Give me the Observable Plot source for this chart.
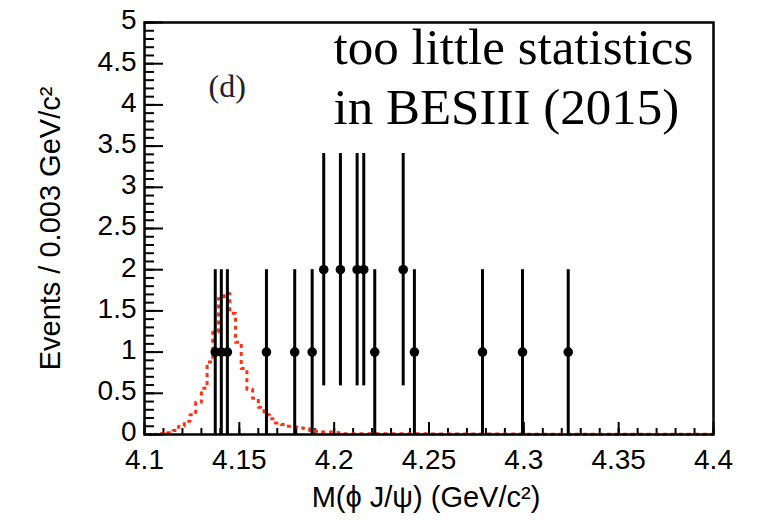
<!DOCTYPE html>
<html><head><meta charset="utf-8">
<script src="https://cdn.jsdelivr.net/npm/d3@7"></script>
<script src="https://cdn.jsdelivr.net/npm/@observablehq/plot@0.6"></script>
<style>body{margin:0;background:#fff}</style>
</head><body><div id="chart"></div>
<script>
// Data points (bin centres, counts) and their error bar ends
const massX   = [4.1373, 4.1405, 4.1437, 4.1643, 4.1792, 4.1884, 4.1945, 4.2033, 4.2121, 4.2156, 4.2214, 4.2364, 4.2423, 4.2782, 4.2993, 4.3234];
const counts  = [1, 1, 1, 1, 1, 1, 2, 2, 2, 2, 1, 2, 1, 1, 1, 1];
const errLow  = [0, 0, 0, 0, 0, 0, 0.59, 0.59, 0.59, 0.59, 0, 0.59, 0, 0, 0, 0];
const errHigh = [2, 2, 2, 2, 2, 2, 3.41, 3.41, 3.41, 3.41, 2, 3.41, 2, 2, 2, 2];

// MC signal shape (red dotted histogram): bin lower edges and heights
const mcX = [4.100, 4.103, 4.106, 4.109, 4.112, 4.115, 4.118, 4.121, 4.124, 4.127,
             4.130, 4.133, 4.136, 4.139, 4.142, 4.145, 4.148, 4.151, 4.154, 4.157,
             4.160, 4.163, 4.166, 4.169, 4.172, 4.175, 4.178, 4.181, 4.184, 4.187,
             4.190, 4.193, 4.196, 4.199, 4.202, 4.205, 4.250, 4.300, 4.400];
const mcY = [0.00, 0.00, 0.005, 0.015, 0.02, 0.05, 0.10, 0.16, 0.24, 0.39,
             0.56, 0.88, 1.24, 1.65, 1.71, 1.47, 1.12, 0.80, 0.55, 0.44,
             0.33, 0.24, 0.19, 0.14, 0.12, 0.10, 0.09, 0.08, 0.07, 0.05,
             0.04, 0.03, 0.03, 0.025, 0.02, 0.01, 0.005, 0.003, 0.003];

// Axis ticks and labels
const xTickValues = [4.1, 4.15, 4.2, 4.25, 4.3, 4.35, 4.4];
const xTickLabels = ["4.1", "4.15", "4.2", "4.25", "4.3", "4.35", "4.4"];
const yTickValues = [0, 0.5, 1, 1.5, 2, 2.5, 3, 3.5, 4, 4.5, 5];
const yTickLabels = ["0", "0.5", "1", "1.5", "2", "2.5", "3", "3.5", "4", "4.5", "5"];
const xLabel = "M(\u03d5 J/\u03c8) (GeV/c\u00b2)";
const yLabel = "Events / 0.003 GeV/c\u00b2";
const panelTag = "(d)";
const noteLines = ["too little statistics", "in BESIII (2015)"];

const W = 761, H = 521;
const mL = 144, mR = 48, mT = 22, mB = 87;
const innerW = W - mL - mR, innerH = H - mT - mB;

const points = massX.map((x, i) => ({x, n: counts[i], lo: errLow[i], hi: errHigh[i]}));
const mc = mcX.map((x, i) => ({x, y: mcY[i]}));
const xMinor = d3.range(0, 31).map(i => +(4.1 + i * 0.01).toFixed(2));
const yMinor = d3.range(0, 51).map(i => +(i * 0.1).toFixed(1));

const sans = "'Liberation Sans', Arial, Helvetica, sans-serif";
const serif = "'Liberation Serif', 'Times New Roman', serif";

const chart = Plot.plot({
  width: W, height: H,
  marginLeft: mL, marginRight: mR, marginTop: mT, marginBottom: mB,
  x: {domain: [4.1, 4.4]},
  y: {domain: [0, 5]},
  style: {fontFamily: sans, background: "#fff", color: "#000"},
  marks: [
    // inward ticks
    Plot.tickX(xMinor, {x: d => d, insetTop: innerH - 6, stroke: "#000", strokeWidth: 2}),
    Plot.tickX(xTickValues, {x: d => d, insetTop: innerH - 12, stroke: "#000", strokeWidth: 2}),
    Plot.tickY(yMinor, {y: d => d, insetRight: innerW - 10, stroke: "#000", strokeWidth: 2}),
    Plot.tickY(yTickValues, {y: d => d, insetRight: innerW - 19, stroke: "#000", strokeWidth: 2}),
    // tick labels
    Plot.axisX({ticks: xTickValues, tickFormat: (d, i) => xTickLabels[i], tickSize: 0, tickPadding: 15, fontSize: 28, label: null}),
    Plot.axisY({ticks: yTickValues, tickFormat: (d, i) => yTickLabels[i], tickSize: 0, tickPadding: 8, dy: -2, fontSize: 28, label: null}),
    // MC shape
    Plot.line(mc, {x: "x", y: "y", curve: "step-after", stroke: "#ff3014", strokeWidth: 3, strokeDasharray: "4,4", strokeLinecap: "butt"}),
    // data with error bars
    Plot.ruleX(points, {x: "x", y1: "lo", y2: "hi", stroke: "#000", strokeWidth: 3}),
    Plot.dot(points, {x: "x", y: "n", r: 4.8, fill: "#000", stroke: "none"}),
    Plot.frame({stroke: "#000", strokeWidth: 2.5}),
    // axis titles
    Plot.text([xLabel], {text: d => d, frameAnchor: "bottom", dy: 63, dx: -3, lineAnchor: "middle", fontSize: 29, fill: "#000"}),
    Plot.text([yLabel], {text: d => d, frameAnchor: "left", dx: -94, rotate: -90, textAnchor: "middle", lineAnchor: "middle", fontSize: 29, fill: "#000"}),
    // annotations
    Plot.text([panelTag], {text: d => d, frameAnchor: "top-left", dx: 64, dy: 64, textAnchor: "start", lineAnchor: "middle", fontFamily: serif, fontSize: 32, fill: "#222"}),
    Plot.text([noteLines[0]], {text: d => d, frameAnchor: "top-left", dx: 189, dy: 41, textAnchor: "start", lineAnchor: "bottom", fontFamily: serif, fontSize: 51, fill: "#000"}),
    Plot.text([noteLines[1]], {text: d => d, frameAnchor: "top-left", dx: 189, dy: 101, textAnchor: "start", lineAnchor: "bottom", fontFamily: serif, fontSize: 51, fill: "#000"})
  ]
});
document.getElementById("chart").appendChild(chart);
</script>
</body></html>
